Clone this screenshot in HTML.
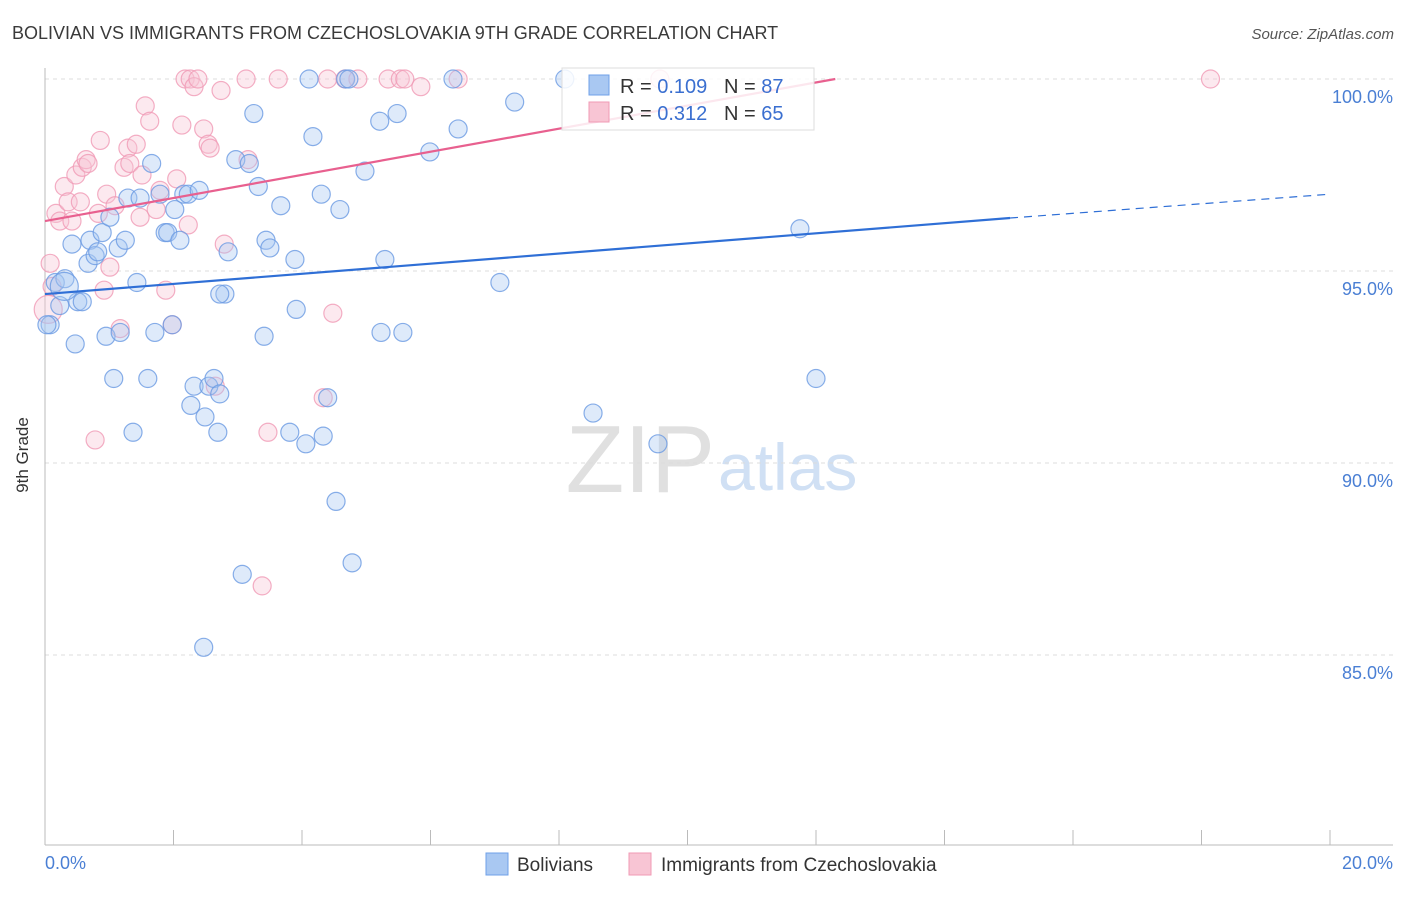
<!DOCTYPE html>
<html><head><meta charset="utf-8"><style>
body{margin:0;background:#fff;font-family:"Liberation Sans",sans-serif}
svg text{font-family:"Liberation Sans",sans-serif}
</style></head><body>
<svg width="1406" height="892" xmlns="http://www.w3.org/2000/svg">
<text x="12" y="39" font-size="18" fill="#3a3a3a">BOLIVIAN VS IMMIGRANTS FROM CZECHOSLOVAKIA 9TH GRADE CORRELATION CHART</text>
<text x="1394" y="39" font-size="15" fill="#555" text-anchor="end" font-style="italic">Source: ZipAtlas.com</text>
<text x="715" y="492" font-size="96" fill="#e0e0e0" text-anchor="end" font-family="Liberation Serif">ZIP</text>
<text x="718" y="490" font-size="66" fill="#d0e0f4">atlas</text>
<g id="grid"></g>
<line x1="45" y1="68" x2="45" y2="845" stroke="#bbb"/>
<line x1="45" y1="845" x2="1393" y2="845" stroke="#bbb"/>
<text x="28" y="455" font-size="17" fill="#333" text-anchor="middle" transform="rotate(-90 28 455)">9th Grade</text>
<text x="45" y="869" font-size="18" fill="#4a7fd4">0.0%</text>
<text x="1393" y="869" font-size="18" fill="#4a7fd4" text-anchor="end">20.0%</text>
<g id="pts"></g>
<g id="lines"></g>
<g>
<rect x="562" y="68" width="252" height="62" fill="#fff" fill-opacity="0.85" stroke="#ddd"/>
<rect x="589" y="75" width="20" height="20" fill="#a9c8f2" stroke="#6fa0e8"/>
<rect x="589" y="102" width="20" height="20" fill="#f8c5d4" stroke="#f09ab5"/>
<text x="620" y="93" font-size="20" fill="#333" xml:space="preserve">R = <tspan fill="#3a6fd0">0.109</tspan>   N = <tspan fill="#3a6fd0">87</tspan></text>
<text x="620" y="120" font-size="20" fill="#333" xml:space="preserve">R = <tspan fill="#3a6fd0">0.312</tspan>   N = <tspan fill="#3a6fd0">65</tspan></text>
</g>
<g>
<rect x="486" y="853" width="22" height="22" fill="#a9c8f2" stroke="#6fa0e8"/>
<text x="517" y="871" font-size="19" fill="#333">Bolivians</text>
<rect x="629" y="853" width="22" height="22" fill="#f8c5d4" stroke="#f09ab5"/>
<text x="661" y="871" font-size="19" fill="#333">Immigrants from Czechoslovakia</text>
</g>
</svg>
<script>
const yTicks=[100,95,90,85];
const xTickVals=[0,2,4,6,8,10,12,14,16,18,20];
const blueX=[0.08,0.03,0.16,0.23,0.31,0.42,0.47,0.51,0.58,0.67,0.7,0.78,0.82,0.89,0.95,1.01,1.07,1.14,1.17,1.25,1.29,1.37,1.43,1.48,1.6,1.66,1.71,1.79,1.87,1.91,1.98,2.02,2.1,2.16,2.23,2.27,2.32,2.4,2.49,2.55,2.63,2.69,2.72,2.8,2.85,2.97,3.07,3.18,3.25,3.32,3.41,3.44,3.5,3.67,3.81,3.89,3.91,4.06,4.11,4.17,4.3,4.33,4.4,4.53,4.59,4.68,4.73,4.78,4.98,5.21,5.23,5.29,5.48,5.57,5.99,6.35,6.43,7.08,7.31,8.09,8.53,9.54,11.75,12.0,2.47,2.72,0.3];
const blueY=[93.6,93.6,94.7,94.1,94.8,95.7,93.1,94.2,94.2,95.2,95.8,95.4,95.5,96.0,93.3,96.4,92.2,95.6,93.4,95.8,96.9,90.8,94.7,96.9,92.2,97.8,93.4,97.0,96.0,96.0,93.6,96.6,95.8,97.0,97.0,91.5,92.0,97.1,91.2,92.0,92.2,90.8,91.8,94.4,95.5,97.9,87.1,97.8,99.1,97.2,93.3,95.8,95.6,96.7,90.8,95.3,94.0,90.5,100,98.5,97.0,90.7,91.7,89.0,96.6,100,100,87.4,97.6,98.9,93.4,95.3,99.1,93.4,98.1,100,98.7,94.7,99.4,100,91.3,90.5,96.1,92.2,85.2,94.4,94.6];
const pinkX=[0.08,0.11,0.17,0.23,0.3,0.36,0.42,0.48,0.55,0.58,0.64,0.67,0.78,0.83,0.86,0.92,0.96,1.01,1.09,1.17,1.23,1.29,1.32,1.42,1.48,1.51,1.56,1.63,1.73,1.79,1.88,1.98,2.05,2.13,2.18,2.23,2.26,2.32,2.38,2.47,2.54,2.57,2.65,2.74,2.79,3.13,3.16,3.38,3.47,3.63,4.33,4.4,4.48,4.67,4.87,5.34,5.53,5.6,5.85,6.43,9.57,18.14,0.05];
const pinkY=[95.2,94.6,96.5,96.3,97.2,96.8,96.3,97.5,96.8,97.7,97.9,97.8,90.6,96.5,98.4,94.5,97.0,95.1,96.7,93.5,97.7,98.2,97.8,98.3,96.4,97.5,99.3,98.9,96.6,97.1,94.5,93.6,97.4,98.8,100,96.2,100,99.8,100,98.7,98.3,98.2,92.0,99.7,95.7,100,97.9,86.8,90.8,100,91.7,100,93.9,100,100,100,100,100,99.8,100,100,100,94.0];
const NS="http://www.w3.org/2000/svg";
const xs=v=>45+v/20*1285, ys=v=>79+(100-v)*38.4;
const grid=document.getElementById('grid');
yTicks.forEach(t=>{
 const l=document.createElementNS(NS,'line');
 
 
 l.setAttribute('x1',45);l.setAttribute('x2',1393);l.setAttribute('y1',ys(t));l.setAttribute('y2',ys(t));
 l.setAttribute('stroke','#ddd');l.setAttribute('stroke-dasharray','4 4');grid.appendChild(l);
 const tx=document.createElementNS(NS,'text');
 
 
 tx.setAttribute('x',1393);tx.setAttribute('y',ys(t)+24);tx.setAttribute('text-anchor','end');
 tx.setAttribute('font-size','18');tx.setAttribute('fill','#4a7fd4');tx.textContent=t.toFixed(1)+'%';grid.appendChild(tx);
});
xTickVals.forEach(t=>{
 const l=document.createElementNS(NS,'line');
 
 
 l.setAttribute('x1',xs(t));l.setAttribute('x2',xs(t));l.setAttribute('y1',830);l.setAttribute('y2',845);
 l.setAttribute('stroke','#bbb');grid.appendChild(l);
});
const pts=document.getElementById('pts');
function draw(X,Y,fill,stroke,name){X.forEach((x,i)=>{
 const c=document.createElementNS(NS,'circle');
 
 
 const big=(i===X.length-1)?14:9;
 c.setAttribute('cx',xs(x));c.setAttribute('cy',ys(Y[i]));c.setAttribute('r',big);
 c.setAttribute('fill',fill);c.setAttribute('fill-opacity','0.38');c.setAttribute('stroke',stroke);c.setAttribute('stroke-opacity','0.8');c.setAttribute('stroke-width','1.2');
 pts.appendChild(c);});}
draw(pinkX,pinkY,'#f8c5d4','#f09ab5','czech-point');
draw(blueX,blueY,'#a9c8f2','#6a9ae2','bolivian-point');
const lines=document.getElementById('lines');
function ln(x1,y1,x2,y2,col,dash,name){const l=document.createElementNS(NS,'line');
 
 
 l.setAttribute('x1',xs(x1));l.setAttribute('y1',ys(y1));l.setAttribute('x2',xs(x2));l.setAttribute('y2',ys(y2));
 l.setAttribute('stroke',col);l.setAttribute('stroke-width',dash?1.2:2.2);if(dash)l.setAttribute('stroke-dasharray','8 6');lines.appendChild(l);}
ln(0,94.4,15.02,96.38,'#2f6fd6',false,'bolivian-trend-line');
ln(15.02,96.38,20,97.0,'#2f6fd6',true,'bolivian-trend-extension');
ln(0,96.3,12.3,100,'#e8608f',false,'czech-trend-line');
</script>
</body></html>
